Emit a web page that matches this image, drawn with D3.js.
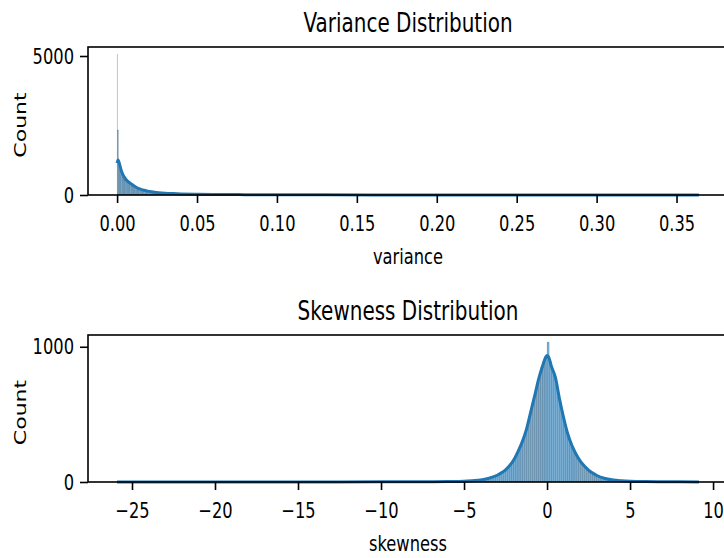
<!DOCTYPE html>
<meta charset="utf-8">
<style>
body { margin: 0; background: #fff; }
text { font-family: "DejaVu Sans", sans-serif; fill: #000; }
.kde { fill: none; stroke: #1f77b4; stroke-width: 3px; stroke-linejoin: round; }
.bar { fill: #1f77b4; fill-opacity: 0.6; stroke: #000; stroke-opacity: 0.35; stroke-width: 0.3px; }
.spine { stroke: #000; stroke-width: 1.6px; fill: none; }
</style>
<svg width="724" height="558"></svg>
<script src="https://cdn.jsdelivr.net/npm/d3@7"></script>
<script>
// variance histogram: a very narrow first bin at zero, then equal bins
var varBinEdges = [0, 0.0002].concat(d3.range(1, 51).map(function(i) { return i * 0.0008; }));
var varCounts = [5070, 2340, 1180, 870, 740, 650, 580, 530, 485, 440,
                 410, 385, 350, 318, 292, 262, 240, 226, 206, 190,
                 178, 166, 152, 143, 134, 126, 119, 112, 107, 101,
                 96, 90, 85, 80, 76, 72, 68, 64, 60, 57,
                 54, 51, 48, 46, 44, 42, 40, 38, 36, 34];
var varKdeX = [0, 0.0006, 0.0015, 0.0025, 0.0037, 0.005, 0.0065, 0.0081, 0.01, 0.0125,
               0.015, 0.0163, 0.019, 0.0225, 0.026, 0.03, 0.035, 0.04, 0.05, 0.06,
               0.08, 0.1, 0.13, 0.16, 0.2, 0.25, 0.3, 0.364];
var varKdeY = [1150, 1260, 1120, 900, 720, 600, 500, 430, 350, 260,
               200, 180, 140, 110, 85, 65, 50, 40, 28, 20,
               13, 9, 6, 4, 3, 2, 1.5, 1];
var varTicks = [0, 0.05, 0.10, 0.15, 0.20, 0.25, 0.30, 0.35];
var varYTicks = [0, 5000];

// skewness histogram, bins of 0.125 from -5 to 5
var skewBinEdges = d3.range(0, 81).map(function(i) { return -5 + i * 0.125; });
var skewCounts = [6, 7, 8, 9, 10, 11, 13, 14, 16, 18,
                  21, 25, 30, 35, 40, 47, 53, 62, 72, 83,
                  97, 112, 128, 150, 175, 205, 240, 275, 315, 362,
                  410, 480, 540, 605, 665, 730, 790, 845, 890, 930,
                  1035, 895, 830, 790, 720, 650, 580, 505, 450, 385,
                  330, 290, 255, 220, 192, 168, 148, 128, 112, 97,
                  84, 72, 62, 53, 46, 40, 34, 29, 25, 21,
                  18, 16, 14, 12, 11, 10, 9, 8, 7, 6];
var skewKdeX = [-25.9, -20, -15, -10, -7, -6, -5, -4.5, -4, -3.5, -3, -2.75, -2.5, -2.25, -2,
                -1.75, -1.5, -1.25, -1, -0.75, -0.5, -0.25, -0.125, 0, 0.125, 0.25, 0.5,
                0.75, 1, 1.25, 1.5, 1.75, 2, 2.25, 2.5, 2.75, 3, 3.5, 4, 4.5, 5, 6, 7, 8, 9.15];
var skewKdeY = [0.5, 0.6, 0.8, 1, 2, 3, 6, 10, 15, 28, 50, 68, 90, 122, 165,
                225, 295, 385, 510, 635, 765, 865, 910, 935, 915, 860, 775,
                615, 475, 355, 270, 205, 155, 118, 88, 66, 48, 26, 14, 9, 6, 3, 2, 1, 0.5];
var skewTicks = [-25, -20, -15, -10, -5, 0, 5, 10];
var skewYTicks = [0, 1000];

var sx = 0.74;  // text in the picture is narrower than it is tall
var svg = d3.select("svg");

function squish(sel) {
  sel.each(function() {
    var t = d3.select(this);
    var x = +t.attr("x") || 0;
    t.attr("x", x / sx).attr("transform", "scale(" + sx + ",1)");
  });
}

function panel(cfg) {
  var g = svg.append("g");
  var x = d3.scaleLinear().domain(cfg.xDomain).range([88, 728]);
  var y = d3.scaleLinear().domain(cfg.yDomain).range([cfg.bottom, cfg.top]);

  var bins = cfg.counts.map(function(c, i) {
    return { x0: cfg.edges[i], x1: cfg.edges[i + 1], n: c };
  });
  g.selectAll("rect.bar").data(bins).enter().append("rect")
    .attr("class", "bar")
    .attr("x", function(d) { return x(d.x0); })
    .attr("width", function(d) { return x(d.x1) - x(d.x0); })
    .attr("y", function(d) { return y(d.n); })
    .attr("height", function(d) { return y(0) - y(d.n); });

  var line = d3.line()
    .x(function(d) { return x(d[0]); })
    .y(function(d) { return y(d[1]); })
    .curve(d3.curveMonotoneX);
  g.append("path").attr("class", "kde")
    .attr("d", line(d3.zip(cfg.kdeX, cfg.kdeY)));

  var xa = g.append("g").attr("transform", "translate(0," + cfg.bottom + ")")
    .call(d3.axisBottom(x).tickValues(cfg.ticks).tickFormat(cfg.fmt).tickSize(8).tickPadding(12));
  var ya = g.append("g").attr("transform", "translate(88,0)")
    .call(d3.axisLeft(y).tickValues(cfg.yTicks).tickFormat(d3.format("d")).tickSize(8).tickPadding(6));
  [xa, ya].forEach(function(a) {
    a.select(".domain").remove();
    a.selectAll(".tick line").attr("stroke", "#000").attr("stroke-width", 1.6);
    a.selectAll(".tick text").attr("font-size", 22).attr("fill", "#000")
      .style("font-family", "DejaVu Sans");
    squish(a.selectAll(".tick text"));
  });

  g.append("rect").attr("class", "spine")
    .attr("x", 88).attr("y", cfg.top).attr("width", 640).attr("height", cfg.bottom - cfg.top);

  g.append("text").attr("font-size", 27).attr("text-anchor", "middle")
    .attr("x", 408 / sx).attr("y", cfg.top - 15).attr("transform", "scale(" + sx + ",1)")
    .text(cfg.title);
  g.append("text").attr("font-size", 22).attr("text-anchor", "middle")
    .attr("x", 408 / sx).attr("y", cfg.bottom + 69).attr("transform", "scale(" + sx + ",1)")
    .text(cfg.xlabel);
  g.append("text").attr("font-size", 22).attr("text-anchor", "middle")
    .attr("transform", "translate(26," + ((cfg.top + cfg.bottom) / 2 + 4) + ") scale(" + sx + ",1) rotate(-90)")
    .text("Count");
}

panel({
  xDomain: [-0.0182, 0.3822], yDomain: [0, 5324], top: 47, bottom: 195,
  edges: varBinEdges, counts: varCounts,
  kdeX: varKdeX, kdeY: varKdeY, ticks: varTicks, yTicks: varYTicks,
  fmt: d3.format(".2f"), title: "Variance Distribution", xlabel: "variance"
});
panel({
  xDomain: [-27.65, 10.9], yDomain: [0, 1087], top: 335, bottom: 482,
  edges: skewBinEdges, counts: skewCounts,
  kdeX: skewKdeX, kdeY: skewKdeY, ticks: skewTicks, yTicks: skewYTicks,
  fmt: d3.format("d"), title: "Skewness Distribution", xlabel: "skewness"
});
</script>
